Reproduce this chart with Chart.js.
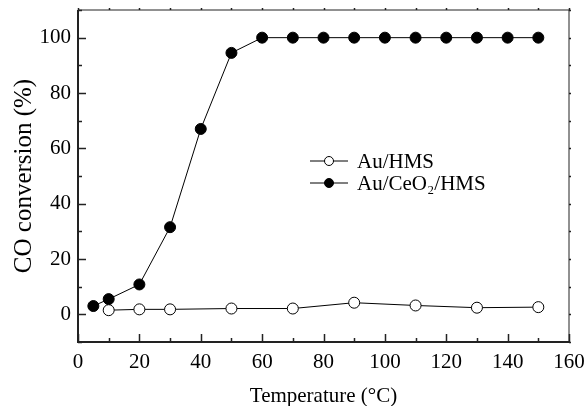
<!DOCTYPE html>
<html>
<head>
<meta charset="utf-8">
<script src="https://cdn.jsdelivr.net/npm/chart.js@4"></script>
<style>
  html, body { margin: 0; padding: 0; background: #fff; }
</style>
</head>
<body>
<canvas id="c" width="586" height="406"></canvas>
<script>
// Au/HMS, open circles
var tempHMS = [10, 20, 30, 50, 70, 90, 110, 130, 150]
var convHMS = [1.5, 1.8, 1.8, 2.1, 2.1, 4.2, 3.2, 2.4, 2.6]

// Au/CeO2/HMS, filled circles
var tempCeO2 = [5, 10, 20, 30, 40, 50, 60, 70, 80, 90, 100, 110, 120, 130, 140, 150]
var convCeO2 = [3.0, 5.5, 10.8, 31.5, 67, 94.5, 100, 100, 100, 100, 100, 100, 100, 100, 100, 100]

var xTicks = [0, 20, 40, 60, 80, 100, 120, 140, 160]
var yTicks = [0, 20, 40, 60, 80, 100]

var FONT = '"Liberation Serif", "Times New Roman", serif'

function pts(xs, ys) {
  return xs.map(function (x, i) { return {x: x, y: ys[i]} })
}

// frame + inward ticks on all four sides
var frame = {
  id: 'frame',
  afterDatasetsDraw: function (chart) {
    var ctx = chart.ctx, a = chart.chartArea
    var xs = chart.scales.x, ys = chart.scales.y
    ctx.save()
    ctx.strokeStyle = '#222'
    ctx.lineWidth = 1
    ctx.beginPath()
    // top + right (thin)
    ctx.moveTo(a.left, a.top); ctx.lineTo(a.right, a.top); ctx.lineTo(a.right, a.bottom)
    ctx.stroke()
    ctx.lineWidth = 2
    ctx.beginPath()
    ctx.moveTo(a.left, a.top); ctx.lineTo(a.left, a.bottom); ctx.lineTo(a.right, a.bottom)
    ctx.stroke()

    ctx.lineWidth = 1.5
    ctx.beginPath()
    for (var v = xs.min; v <= xs.max; v += 10) {
      var px = Math.round(xs.getPixelForValue(v)) + 0.5
      var len = (v % 20 === 0) ? 8 : 4
      ctx.moveTo(px, a.bottom); ctx.lineTo(px, a.bottom - len)
      ctx.moveTo(px, a.top); ctx.lineTo(px, a.top - 2)
    }
    for (var w = ys.min; w <= ys.max; w += 10) {
      var py = Math.round(ys.getPixelForValue(w)) + 0.5
      var l2 = (w % 20 === 0) ? 8 : 4
      ctx.moveTo(a.left, py); ctx.lineTo(a.left + l2, py)
      ctx.moveTo(a.right, py); ctx.lineTo(a.right + 2, py)
    }
    ctx.stroke()
    ctx.restore()
  }
}

// legend drawn inside the plot, mark + line + label
var legendBox = {
  id: 'legendBox',
  afterDraw: function (chart) {
    var ctx = chart.ctx
    var x0 = 310, x1 = 348, tx = 357, y0 = 161, dy = 22
    ctx.save()
    chart.data.datasets.forEach(function (ds, i) {
      var y = y0 + i * dy
      ctx.strokeStyle = '#000'
      ctx.lineWidth = 1
      ctx.beginPath(); ctx.moveTo(x0, y); ctx.lineTo(x1, y); ctx.stroke()
      ctx.beginPath()
      ctx.arc((x0 + x1) / 2, y, 4.5, 0, Math.PI * 2)
      ctx.fillStyle = ds.pointBackgroundColor
      ctx.fill(); ctx.stroke()
      ctx.fillStyle = '#000'
      ctx.font = '21px ' + FONT
      ctx.textBaseline = 'middle'
      ctx.fillText(ds.label, tx, y + 1)
    })
    ctx.restore()
  }
}

new Chart(document.getElementById('c'), {
  type: 'line',
  data: {
    datasets: [{
      label: 'Au/HMS',
      data: pts(tempHMS, convHMS),
      borderColor: '#000',
      borderWidth: 1,
      pointRadius: 5.5,
      pointBorderWidth: 1,
      pointBackgroundColor: '#fff',
      pointBorderColor: '#000'
    }, {
      label: 'Au/CeO\u2082/HMS',
      data: pts(tempCeO2, convCeO2),
      borderColor: '#000',
      borderWidth: 1,
      pointRadius: 5.5,
      pointBorderWidth: 1,
      pointBackgroundColor: '#000',
      pointBorderColor: '#000'
    }]
  },
  options: {
    responsive: false,
    animation: false,
    devicePixelRatio: 1,
    clip: false,
    layout: { padding: { top: 10, right: 17, left: 0, bottom: 0 } },
    plugins: { legend: { display: false }, tooltip: { enabled: false } },
    scales: {
      x: {
        type: 'linear',
        min: 0, max: 160,
        afterBuildTicks: function (s) { s.ticks = xTicks.map(function (v) { return {value: v} }) },
        afterFit: function (s) { s.height = 64; s.paddingLeft = 0; s.paddingRight = 0 },
        grid: { display: false, drawTicks: false },
        border: { display: false },
        ticks: { color: '#000', font: { family: FONT, size: 21 }, padding: 8, maxRotation: 0 },
        title: { display: true, text: 'Temperature (\u00b0C)', color: '#000',
                 font: { family: FONT, size: 21, lineHeight: 1 }, padding: { top: 0, bottom: -1 } }
      },
      y: {
        type: 'linear',
        min: -10, max: 110,
        afterBuildTicks: function (s) { s.ticks = yTicks.map(function (v) { return {value: v} }) },
        afterFit: function (s) { s.width = 78; s.paddingTop = 0; s.paddingBottom = 0 },
        grid: { display: false, drawTicks: false },
        border: { display: false },
        ticks: { color: '#000', font: { family: FONT, size: 21 }, padding: 7 },
        title: { display: true, text: 'CO conversion (%)', color: '#000',
                 font: { family: FONT, size: 25, lineHeight: 1 }, padding: { top: 12, bottom: 0 } }
      }
    }
  },
  plugins: [frame, legendBox]
})
</script>
</body>
</html>
